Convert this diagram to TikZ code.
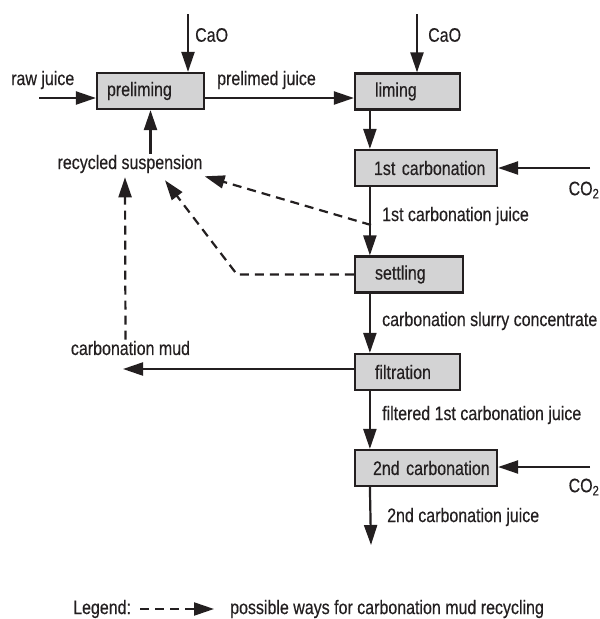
\documentclass[tikz,border=0pt]{standalone}
\usepackage{fontspec}
\setmainfont{Liberation Sans}[FakeStretch=0.82,FakeBold=0.4]
\usetikzlibrary{arrows.meta}
\usepackage{xcolor}
\definecolor{InkDark}{HTML}{231F20}
\definecolor{BoxGray}{HTML}{D3D3D4}

\begin{document}
\begin{tikzpicture}[
  x=1pt, y=-1pt,
  >={Triangle[length=20pt,width=13pt]},
  font=\fontsize{19.5}{21}\selectfont,
  box/.style={draw=InkDark, fill=BoxGray, line width=2.2pt, minimum height=36pt, inner ysep=0pt, inner xsep=20pt, align=left, text=InkDark},
  lbl/.style={inner sep=1pt, text=InkDark},
  flow/.style={InkDark, line width=2.2pt, ->},
  mudway/.style={InkDark, line width=2.2pt, dash pattern=on 9pt off 6pt, ->}
]
\useasboundingbox (0,0) rectangle (600,619);

% Process boxes
\node[box, inner xsep=10pt, text width=87pt] (prelim) at (150.5,91) {preliming};
\node[box, text width=65pt] (liming) at (407.5,91.5) {liming};
\node[box, inner xsep=19pt, text width=104pt] (carb1) at (426,168) {\mbox{1st carbonation}};
\node[box, text width=68pt] (settl) at (409,274.5) {settling};
\node[box, text width=65pt] (filt) at (407.5,372) {filtration};
\node[box, inner xsep=18pt, text width=106pt] (carb2) at (426,468) {\mbox{2nd carbonation}};

% Inputs
\coordinate (cao1) at (188,14);
\coordinate (cao2) at (417,14);
\coordinate (rawin) at (39,98);
\coordinate (co2a) at (590,168);
\coordinate (co2b) at (590,467);
\draw[flow] (cao1) -- (cao1 |- prelim.north);
\draw[flow] (cao2) -- (cao2 |- liming.north);
\draw[flow] (rawin) -- (rawin -| prelim.west);
\draw[flow] (co2a) -- (co2a -| carb1.east);
\draw[flow] (co2b) -- (co2b -| carb2.east);
\node[lbl, anchor=west] (caoA) at (194,35) {CaO};
\node[lbl, anchor=west] (caoB) at (427,35) {CaO};
\node[lbl, anchor=west] (raw) at (10,80) {raw juice};
\node[lbl] (co2A) at (584,190) {CO\textsubscript{2}};
\node[lbl] (co2B) at (584,487) {CO\textsubscript{2}};

% Main juice line
\draw[flow] ([yshift=-7pt]prelim.east) -- ([yshift=-6.5pt]liming.west);
\node[lbl, anchor=west] (prelimed) at (216,80) {prelimed juice};
\draw[flow] ([xshift=16pt]liming.south west) -- ([xshift=16pt]carb1.north west);
\draw[flow] ([xshift=16pt]carb1.south west) -- ([xshift=16pt]settl.north west);
\draw[flow] ([xshift=16pt]settl.south west) -- ([xshift=16pt]filt.north west);
\draw[flow] ([xshift=16pt]filt.south west) -- ([xshift=16pt]carb2.north west);
\coordinate (juiceout) at (371,545);
\draw[flow] ([xshift=16pt]carb2.south west) -- (juiceout);
\node[lbl, anchor=west] (j1) at (381,216) {1st carbonation juice};
\node[lbl, anchor=west] (slurry) at (381,321) {carbonation slurry concentrate};
\node[lbl, anchor=west] (j2) at (381,415) {filtered 1st carbonation juice};
\node[lbl, anchor=west] (j3) at (386,517) {2nd carbonation juice};

% Mud and recycling
\node[lbl] (susp) at (130,164) {recycled suspension};
\node[lbl] (mud) at (130.5,348) {carbonation mud};
\coordinate (mudend) at (123,369);
\draw[flow] ([yshift=3pt]filt.west) -- (mudend);
\draw[flow] (susp.north -| prelim.south) -- (prelim.south);
\draw[mudway] ([xshift=-5pt]mud.north) -- ([xshift=-5pt,yshift=-3pt]susp.south);
\coordinate (settlbend) at (237,274.5);
\draw[mudway] (settl.west) -- (settlbend) -- ([xshift=35pt,yshift=-6pt]susp.south);
\coordinate (juicetap) at (371,225);
\draw[mudway] (juicetap) -- ([xshift=1pt,yshift=-2pt]susp.south east);

% Legend
\node[lbl, anchor=west] (legend) at (72,609) {Legend:};
\coordinate (legA) at (140,609);
\coordinate (legB) at (214,609);
\draw[mudway] (legA) -- (legB);
\node[lbl, anchor=west] (legtext) at (229,609) {possible ways for carbonation mud recycling};

\end{tikzpicture}
\end{document}
